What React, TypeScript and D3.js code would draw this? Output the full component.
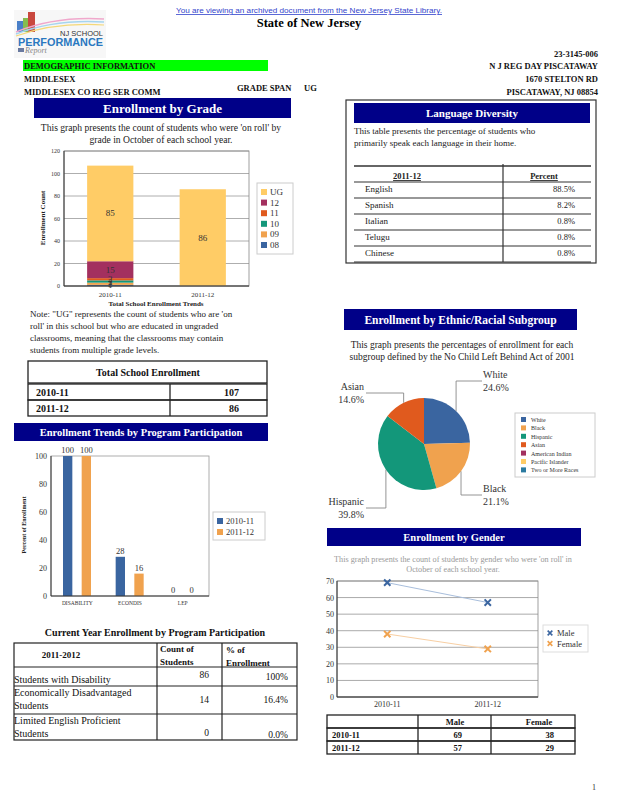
import React from 'react';
import * as d3 from 'd3';

// ---- data ----
const gradeYears = ['2010-11', '2011-12'];
const gradeKeys = ['08', '09', '10', '11', '12', 'UG'];
const grade08 = [1, 0];
const grade09 = [2, 0];
const grade10 = [2, 0];
const grade11 = [2, 0];
const grade12 = [15, 0];
const gradeUG = [85, 86];
const gradeTicks = [0, 20, 40, 60, 80, 100, 120];

const totalYears = ['2010-11', '2011-12'];
const totalEnrollment = [107, 86];

const programCats = ['DISABILITY', 'ECONDIS', 'LEP'];
const programYears = ['2010-11', '2011-12'];
const program2010 = [100, 28, 0];
const program2011 = [100, 16, 0];
const programTicks = [0, 20, 40, 60, 80, 100];

const programRows = [
  ['Students with Disability'],
  ['Economically Disadvantaged', 'Students'],
  ['Limited English Proficient', 'Students'],
];
const programCounts = [86, 14, 0];
const programPcts = ['100%', '16.4%', '0.0%'];

const languages = ['English', 'Spanish', 'Italian', 'Telugu', 'Chinese'];
const languagePct = ['88.5%', '8.2%', '0.8%', '0.8%', '0.8%'];

const ethnicGroups = ['White', 'Black', 'Hispanic', 'Asian', 'American Indian', 'Pacific Islander', 'Two or More Races'];
const ethnicPct = [24.6, 21.1, 39.8, 14.6, 0, 0, 0];

const genderYears = ['2010-11', '2011-12'];
const maleCounts = [69, 57];
const femaleCounts = [38, 29];
const genderTicks = [0, 10, 20, 30, 40, 50, 60, 70];

// ---- styling ----
const SERIF = '"Liberation Serif", "Times New Roman", serif';
const SANS = '"Liberation Sans", Arial, sans-serif';
const NAVY = '#000088';
const BLUE = '#3a65a0';
const ORANGE = '#f0a24e';
const GREEN = '#13977a';
const RED = '#e05a1e';
const MAROON = '#a3305f';
const YELLOW = '#ffcc66';
const TEAL = '#2a7aa0';

const gradeColors: Record<string, string> = {
  '08': BLUE, '09': ORANGE, '10': GREEN, '11': RED, '12': MAROON, UG: YELLOW,
};
const ethnicColors = [BLUE, ORANGE, GREEN, RED, MAROON, YELLOW, TEAL];

const Banner = ({ x, y, w, h, text, size }: { x: number; y: number; w: number; h: number; text: string; size: number }) => (
  <g>
    <rect x={x} y={y} width={w} height={h} fill={NAVY} />
    <text x={x + w / 2} y={y + h / 2 + size * 0.35} textAnchor="middle" fill="#fff" fontWeight="bold" fontSize={size} fontFamily={SERIF}>{text}</text>
  </g>
);

function Header() {
  const right = 598;
  const b = { fontFamily: SERIF, fontWeight: 'bold' as const, fontSize: 8.5, fill: '#111' };
  return (
    <g>
      <text x={309} y={13} textAnchor="middle" fontFamily={SANS} fontSize={8} fill="#3344cc" textDecoration="underline" textLength={266} lengthAdjust="spacingAndGlyphs">You are viewing an archived document from the New Jersey State Library.</text>
      <text x={309} y={27} textAnchor="middle" fontFamily={SERIF} fontWeight="bold" fontSize={12.5}>State of New Jersey</text>
      {/* logo */}
      <g>
        <rect x={14} y={10} width={92} height={48} fill="#f7f7f7" />
        <rect x={17} y={21} width={6} height={11} fill="#4a7fc8" />
        <rect x={23} y={18} width={5} height={14} fill="#86bd4f" />
        <rect x={28} y={12} width={7} height={20} fill="#c9483e" />
        <path d="M16,32 Q55,16 104,19" fill="none" stroke="#f0a8cc" strokeWidth={1.4} />
        <path d="M16,34 Q55,19 104,22" fill="none" stroke="#a6d5ef" strokeWidth={1.4} />
        <path d="M16,36 Q55,22 104,25" fill="none" stroke="#f4d878" strokeWidth={1.2} />
        <text x={103} y={36} textAnchor="end" fontFamily={SANS} fontSize={7.5} fill="#333">NJ SCHOOL</text>
        <text x={18} y={45.5} fontFamily={SANS} fontWeight="bold" fontSize={11} fill="#2a78c0" textLength={85} lengthAdjust="spacingAndGlyphs">PERFORMANCE</text>
        <rect x={18} y={48} width={6} height={4} fill="#6a7aa0" />
        <text x={25} y={53} fontFamily={SERIF} fontStyle="italic" fontSize={8} fill="#888">Report</text>
      </g>
      <text {...b} x={right} y={57} textAnchor="end">23-3145-006</text>
      <rect x={23} y={60} width={245} height={11} fill="#00ff00" />
      <text {...b} x={24} y={69}>DEMOGRAPHIC INFORMATION</text>
      <text {...b} x={right} y={69} textAnchor="end">N J REG DAY  PISCATAWAY</text>
      <text {...b} x={24} y={82}>MIDDLESEX</text>
      <text {...b} x={right} y={82} textAnchor="end">1670 STELTON RD</text>
      <text {...b} x={24} y={95}>MIDDLESEX CO REG SER COMM</text>
      <text {...b} x={237} y={91}>GRADE SPAN</text>
      <text {...b} x={304} y={91}>UG</text>
      <text {...b} x={right} y={95} textAnchor="end">PISCATAWAY, NJ 08854</text>
    </g>
  );
}

function GradeChart() {
  const rows = gradeYears.map((year, i) => ({
    year,
    '08': grade08[i], '09': grade09[i], '10': grade10[i], '11': grade11[i], '12': grade12[i], UG: gradeUG[i],
  }));
  const series = d3.stack<any>().keys(gradeKeys)(rows);
  const x = d3.scaleBand().domain(gradeYears).range([64, 249]).paddingInner(0.5).paddingOuter(0.25);
  const y = d3.scaleLinear().domain([0, 120]).range([286, 151]);
  const legendKeys = [...gradeKeys].reverse();
  return (
    <g fontFamily={SERIF}>
      <Banner x={34} y={98} w={257} h={20} text="Enrollment by Grade" size={13} />
      <text x={161} y={131} textAnchor="middle" fontSize={9.6} fill="#222">This graph presents the count of students who were 'on roll' by</text>
      <text x={161} y={143} textAnchor="middle" fontSize={9.6} fill="#222">grade in October of each school year.</text>
      {gradeTicks.map(t => (
        <g key={t}>
          <line x1={64} x2={249} y1={y(t)} y2={y(t)} stroke="#999" strokeWidth={0.8} />
          <text x={60} y={y(t) + 2} textAnchor="end" fontSize={6} fill="#333">{t}</text>
        </g>
      ))}
      {series.map(s => s.map((d, i) => (
        <rect key={s.key + i} x={x(gradeYears[i])!} width={x.bandwidth()} y={y(d[1])} height={y(d[0]) - y(d[1])} fill={gradeColors[s.key]} />
      )))}
      {series.map(s => s.map((d, i) => (d[1] - d[0] > 0 ? (
        <text key={'l' + s.key + i} x={x(gradeYears[i])! + x.bandwidth() / 2} y={y((d[0] + d[1]) / 2) + 3} textAnchor="middle" fontSize={9} fill="#333">{d[1] - d[0]}</text>
      ) : null)))}
      <rect x={64} y={151} width={185} height={135} fill="none" stroke="#888" strokeWidth={0.8} />
      <line x1={64} x2={64} y1={151} y2={286} stroke="#333" />
      <line x1={64} x2={249} y1={286} y2={286} stroke="#333" />
      {gradeYears.map(g => (
        <text key={g} x={x(g)! + x.bandwidth() / 2} y={297} textAnchor="middle" fontSize={7} fill="#333">{g}</text>
      ))}
      <text x={156} y={306} textAnchor="middle" fontSize={7} fontWeight="bold" fill="#222">Total School Enrollment Trends</text>
      <text transform="translate(45,218) rotate(-90)" textAnchor="middle" fontSize={7} fontWeight="bold" fill="#222">Enrollment Count</text>
      <rect x={257} y={183} width={36} height={71} fill="#fff" stroke="#ccc" />
      {legendKeys.map((k, i) => (
        <g key={k}>
          <rect x={261} y={189 + i * 10.6} width={6} height={6} fill={gradeColors[k]} />
          <text x={270} y={195 + i * 10.6} fontSize={9} fill="#333">{k}</text>
        </g>
      ))}
      <g fontSize={9} fill="#222">
        <text x={30} y={317}>Note: "UG" represents the count of students who are 'on</text>
        <text x={30} y={329}>roll' in this school but who are educated in ungraded</text>
        <text x={30} y={341}>classrooms, meaning that the classrooms may contain</text>
        <text x={30} y={353}>students from multiple grade levels.</text>
      </g>
    </g>
  );
}

function TotalTable() {
  const rowY = d3.scaleBand().domain(totalYears).range([384, 416]);
  return (
    <g fontFamily={SERIF} fontWeight="bold" fontSize={10} fill="#111">
      <rect x={28} y={361} width={239} height={22} fill="#fff" stroke="#222" strokeWidth={1.3} />
      <text x={148} y={376} textAnchor="middle">Total School Enrollment</text>
      {totalYears.map((yr, i) => (
        <g key={yr}>
          <rect x={28} y={rowY(yr)!} width={239} height={rowY.bandwidth()} fill="none" stroke="#222" strokeWidth={1.3} />
          <text x={36} y={rowY(yr)! + 12}>{yr}</text>
          <text x={239} y={rowY(yr)! + 12} textAnchor="end">{totalEnrollment[i]}</text>
        </g>
      ))}
      <line x1={170} x2={170} y1={384} y2={416} stroke="#222" strokeWidth={1.3} />
    </g>
  );
}

function ProgramChart() {
  const x = d3.scaleBand().domain(programCats).range([51, 209]);
  const sub = d3.scaleBand().domain(programYears).range([12, 40]).paddingInner(0.5);
  const y = d3.scaleLinear().domain([0, 100]).range([596, 456]);
  const vals = [program2010, program2011];
  const cols = [BLUE, ORANGE];
  return (
    <g fontFamily={SERIF}>
      <Banner x={14} y={423} w={254} h={18} text="Enrollment Trends by Program Participation" size={10.5} />
      <rect x={51} y={456} width={158} height={140} fill="#fff" stroke="#999" strokeWidth={0.8} />
      {programYears.map((yr, j) => programCats.map((c, i) => (
        <g key={yr + c}>
          <rect x={x(c)! + sub(yr)!} width={sub.bandwidth()} y={y(vals[j][i])} height={y(0) - y(vals[j][i])} fill={cols[j]} />
          <text x={x(c)! + sub(yr)! + sub.bandwidth() / 2} y={y(vals[j][i]) - 3} textAnchor="middle" fontSize={8.5} fill="#333">{vals[j][i]}</text>
        </g>
      )))}
      <line x1={51} x2={51} y1={456} y2={596} stroke="#333" />
      <line x1={51} x2={209} y1={596} y2={596} stroke="#333" />
      {programTicks.map(t => (
        <text key={t} x={47} y={y(t) + 3} textAnchor="end" fontSize={8} fill="#333">{t}</text>
      ))}
      {programCats.map(c => (
        <text key={c} x={x(c)! + x.bandwidth() / 2} y={605} textAnchor="middle" fontSize={5.5} fill="#333">{c}</text>
      ))}
      <text transform="translate(26,525) rotate(-90)" textAnchor="middle" fontSize={6} fontWeight="bold" fill="#222">Percent of Enrollment</text>
      <rect x={213} y={512} width={52} height={28} fill="#fff" stroke="#ccc" />
      {programYears.map((yr, j) => (
        <g key={yr}>
          <rect x={217} y={518 + j * 11} width={6} height={6} fill={cols[j]} />
          <text x={226} y={524 + j * 11} fontSize={8.5} fill="#333">{yr}</text>
        </g>
      ))}
    </g>
  );
}

function ProgramTable() {
  const lines = [643, 667, 686, 714, 740];
  return (
    <g fontFamily={SERIF} fill="#111">
      <text x={155} y={636} textAnchor="middle" fontSize={10} fontWeight="bold">Current Year Enrollment by Program Participation</text>
      <rect x={14} y={643} width={283} height={97} fill="none" stroke="#222" strokeWidth={1.2} />
      {lines.slice(1, 4).map(l => <line key={l} x1={14} x2={297} y1={l} y2={l} stroke="#222" strokeWidth={1.2} />)}
      <line x1={157} x2={157} y1={643} y2={740} stroke="#222" strokeWidth={1.2} />
      <line x1={222} x2={222} y1={643} y2={740} stroke="#222" strokeWidth={1.2} />
      <g fontWeight="bold" fontSize={9}>
        <text x={61} y={658} textAnchor="middle">2011-2012</text>
        <text x={160} y={652}>Count of</text>
        <text x={160} y={665}>Students</text>
        <text x={226} y={653}>% of</text>
        <text x={226} y={666}>Enrollment</text>
      </g>
      {programRows.map((r, i) => {
        const top = lines[i + 1];
        const bot = lines[i + 2];
        const mid = (top + bot) / 2;
        return (
          <g key={i} fontSize={10}>
            {r.map((t, k) => (
              <text key={k} x={14} y={r.length === 1 ? mid + 6 : top + 10 + k * 13}>{t}</text>
            ))}
            <text x={209} y={r.length === 1 ? mid + 1 : mid + 3 + (i === 2 ? 6 : 0)} textAnchor="end" fontSize={9.5}>{programCounts[i]}</text>
            <text x={288} y={r.length === 1 ? mid + 3 : mid + 3 + (i === 2 ? 8 : 0)} textAnchor="end" fontSize={9.5}>{programPcts[i]}</text>
          </g>
        );
      })}
    </g>
  );
}

function LanguageTable() {
  const rowY = d3.scaleBand().domain(languages).range([182, 262]);
  return (
    <g fontFamily={SERIF} fill="#222">
      <rect x={346} y={100} width={250} height={163} fill="#fff" stroke="#333" strokeWidth={1.2} />
      <Banner x={354} y={103} w={236} h={20} text="Language Diversity" size={11} />
      <text x={354} y={134} fontSize={9}>This table presents the percentage of students who</text>
      <text x={354} y={146} fontSize={9}>primarily speak each language in their home.</text>
      <line x1={354} x2={591} y1={166} y2={166} stroke="#333" strokeWidth={1.3} />
      <text x={407} y={179} textAnchor="middle" fontWeight="bold" fontSize={8.5} textDecoration="underline">2011-12</text>
      <text x={544} y={179} textAnchor="middle" fontWeight="bold" fontSize={8.5} textDecoration="underline">Percent</text>
      {languages.map((l, i) => (
        <g key={l}>
          <line x1={354} x2={591} y1={rowY(l)!} y2={rowY(l)!} stroke="#333" strokeWidth={1.2} />
          <text x={365} y={rowY(l)! + 10} fontSize={9}>{l}</text>
          <text x={575} y={rowY(l)! + 10} textAnchor="end" fontSize={8.5}>{languagePct[i]}</text>
        </g>
      ))}
      <line x1={354} x2={591} y1={262} y2={262} stroke="#333" strokeWidth={1.2} />
      <line x1={503} x2={503} y1={164} y2={262} stroke="#333" strokeWidth={1.2} />
    </g>
  );
}

function EthnicPie() {
  const cx = 424;
  const cy = 444;
  const r = 46;
  const pie = d3.pie<number>().sort(null).value(d => d);
  const arcs = pie(ethnicPct);
  const arc = d3.arc<d3.PieArcDatum<number>>().innerRadius(0).outerRadius(r);
  // elbow row and label side for each labelled slice
  const labelLayout = [
    { dy: -63, side: 1, tx: 483 },
    { dy: 51, side: 1, tx: 483 },
    { dy: 64, side: -1, tx: 364 },
    { dy: -51, side: -1, tx: 364 },
  ];
  return (
    <g fontFamily={SERIF}>
      <Banner x={344} y={309} w={233} h={21} text="Enrollment by Ethnic/Racial Subgroup" size={11.5} />
      <text x={462} y={348} textAnchor="middle" fontSize={9.5} fill="#222">This graph presents the percentages of enrollment for each</text>
      <text x={462} y={360} textAnchor="middle" fontSize={9.5} fill="#222">subgroup defined by the No Child Left Behind Act of 2001</text>
      <g transform={`translate(${cx},${cy})`}>
        {arcs.map((a, i) => (a.value > 0 ? <path key={i} d={arc(a)!} fill={ethnicColors[i]} /> : null))}
      </g>
      {arcs.slice(0, 4).map((a, i) => {
        const mid = (a.startAngle + a.endAngle) / 2;
        const px = cx + r * Math.sin(mid);
        const py = cy - r * Math.cos(mid);
        const L = labelLayout[i];
        const ey = cy + L.dy;
        const ex = L.side > 0 ? L.tx - 1 : L.tx + 2;
        return (
          <g key={i}>
            <polyline points={`${px},${py} ${px},${ey} ${ex},${ey}`} fill="none" stroke="#888" strokeWidth={0.9} />
            <text x={L.tx} y={ey - 3} textAnchor={L.side > 0 ? 'start' : 'end'} fontSize={10} fill="#333">{ethnicGroups[i]}</text>
            <text x={L.tx} y={ey + 10} textAnchor={L.side > 0 ? 'start' : 'end'} fontSize={10} fill="#333">{ethnicPct[i].toFixed(1)}%</text>
          </g>
        );
      })}
      <rect x={515} y={413} width={80} height={64} fill="#fff" stroke="#ccc" />
      {ethnicGroups.map((g, i) => (
        <g key={g}>
          <rect x={521} y={417 + i * 8.4} width={5} height={5} fill={ethnicColors[i]} />
          <text x={531} y={422 + i * 8.4} fontSize={6} fill="#333">{g}</text>
        </g>
      ))}
    </g>
  );
}

function GenderChart() {
  const x = d3.scalePoint().domain(genderYears).range([337, 538]).padding(0.5);
  const y = d3.scaleLinear().domain([0, 70]).range([697, 581]);
  const line = d3.line<number>().x((_, i) => x(genderYears[i])!).y(d => y(d));
  const marker = d3.symbol().type(d3.symbolX).size(28)()!;
  const series = [
    { name: 'Male', vals: maleCounts, color: BLUE, light: '#a8bedc' },
    { name: 'Female', vals: femaleCounts, color: ORANGE, light: '#f8cfa3' },
  ];
  return (
    <g fontFamily={SERIF}>
      <Banner x={327} y={528} w={254} h={18} text="Enrollment by Gender" size={10.5} />
      <text x={453} y={562} textAnchor="middle" fontSize={8.2} fill="#999">This graph presents the count of students by gender who were 'on roll' in</text>
      <text x={453} y={572} textAnchor="middle" fontSize={8.2} fill="#999">October of each school year.</text>
      {genderTicks.map(t => (
        <g key={t}>
          <line x1={337} x2={538} y1={y(t)} y2={y(t)} stroke="#aaa" strokeWidth={1} />
          <text x={334} y={y(t) + 3} textAnchor="end" fontSize={8} fill="#333">{t}</text>
        </g>
      ))}
      <rect x={337} y={581} width={201} height={116} fill="none" stroke="#888" strokeWidth={0.8} />
      <line x1={337} x2={337} y1={581} y2={697} stroke="#333" />
      <line x1={337} x2={538} y1={697} y2={697} stroke="#333" />
      {series.map(s => (
        <g key={s.name}>
          <path d={line(s.vals)!} fill="none" stroke={s.light} strokeWidth={1} />
          {s.vals.map((v, i) => (
            <path key={i} d={marker} transform={`translate(${x(genderYears[i])},${y(v)})`} fill="none" stroke={s.color} strokeWidth={2} />
          ))}
        </g>
      ))}
      {genderYears.map(g => (
        <text key={g} x={x(g)!} y={707} textAnchor="middle" fontSize={8} fill="#333">{g}</text>
      ))}
      <rect x={543} y={625} width={45} height={27} fill="#fff" stroke="#ddd" />
      {series.map((s, i) => (
        <g key={s.name}>
          <path d={d3.symbol().type(d3.symbolX).size(16)()!} transform={`translate(550,${633 + i * 10.5})`} fill="none" stroke={s.color} strokeWidth={1.6} />
          <text x={557} y={636 + i * 10.5} fontSize={8.5} fill="#333">{s.name}</text>
        </g>
      ))}
    </g>
  );
}

function GenderTable() {
  const rowY = d3.scaleBand().domain(['head', ...genderYears]).range([715, 754]);
  return (
    <g fontFamily={SERIF} fontWeight="bold" fontSize={8.5} fill="#111">
      {['head', ...genderYears].map(r => (
        <rect key={r} x={327} y={rowY(r)!} width={248} height={rowY.bandwidth()} fill="none" stroke="#222" strokeWidth={1.3} />
      ))}
      <line x1={418} x2={418} y1={715} y2={754} stroke="#222" strokeWidth={1.3} />
      <line x1={491} x2={491} y1={715} y2={754} stroke="#222" strokeWidth={1.3} />
      <text x={455} y={rowY('head')! + 9.5} textAnchor="middle">Male</text>
      <text x={539} y={rowY('head')! + 9.5} textAnchor="middle">Female</text>
      {genderYears.map((g, i) => (
        <g key={g}>
          <text x={332} y={rowY(g)! + 9.5}>{g}</text>
          <text x={462} y={rowY(g)! + 9.5} textAnchor="end">{maleCounts[i]}</text>
          <text x={554} y={rowY(g)! + 9.5} textAnchor="end">{femaleCounts[i]}</text>
        </g>
      ))}
    </g>
  );
}

export default function App() {
  return (
    <div style={{ position: 'absolute', left: 0, top: 0 }}>
      <svg width={618} height={800} style={{ display: 'block', background: '#fff' }}>
        <Header />
        <GradeChart />
        <TotalTable />
        <ProgramChart />
        <ProgramTable />
        <LanguageTable />
        <EthnicPie />
        <GenderChart />
        <GenderTable />
        <text x={592} y={790} fontFamily={SERIF} fontSize={8} fill="#333">1</text>
      </svg>
    </div>
  );
}
